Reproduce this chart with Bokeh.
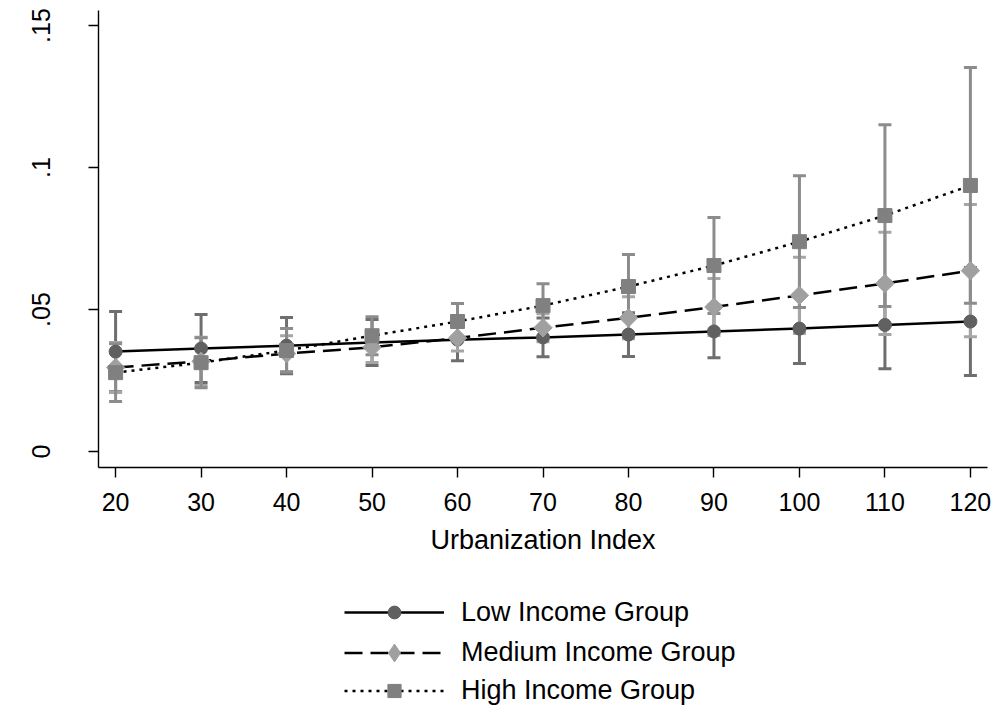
import math
from bokeh.plotting import figure
from bokeh.layouts import column
from bokeh.models import Range1d, FixedTicker, Legend, LegendItem, CustomJSTickFormatter
from bokeh.embed import file_html
from bokeh.resources import INLINE

# ---- data ----
urban = [20, 30, 40, 50, 60, 70, 80, 90, 100, 110, 120]

low_mean = [0.0352, 0.0363, 0.0373, 0.0384, 0.0394, 0.0402, 0.0412, 0.0423, 0.0433, 0.0446, 0.0458]
low_lo   = [0.0211, 0.0243, 0.0274, 0.0303, 0.0320, 0.0334, 0.0335, 0.0330, 0.0310, 0.0292, 0.0268]
low_hi   = [0.0493, 0.0483, 0.0472, 0.0465, 0.0468, 0.0470, 0.0489, 0.0516, 0.0556, 0.0600, 0.0648]

med_mean = [0.0296, 0.0318, 0.0345, 0.0367, 0.0400, 0.0436, 0.0471, 0.0509, 0.0550, 0.0592, 0.0637]
med_lo   = [0.0208, 0.0233, 0.0282, 0.0314, 0.0354, 0.0387, 0.0397, 0.0409, 0.0416, 0.0412, 0.0404]
med_hi   = [0.0384, 0.0403, 0.0408, 0.0420, 0.0446, 0.0485, 0.0545, 0.0609, 0.0684, 0.0772, 0.0870]

high_mean = [0.0278, 0.0313, 0.0356, 0.0408, 0.0458, 0.0514, 0.0581, 0.0655, 0.0739, 0.0831, 0.0937]
high_lo   = [0.0176, 0.0225, 0.0279, 0.0341, 0.0395, 0.0437, 0.0468, 0.0486, 0.0507, 0.0511, 0.0522]
high_hi   = [0.0380, 0.0401, 0.0433, 0.0475, 0.0521, 0.0591, 0.0694, 0.0824, 0.0971, 0.1151, 0.1352]

y_ticks = [0, 0.05, 0.1, 0.15]
series_names = ["Low Income Group", "Medium Income Group", "High Income Group"]

FONT = "Liberation Sans"

p = figure(width=999, height=575, output_backend="svg", toolbar_location=None,
           x_range=Range1d(18.0, 122.0), y_range=Range1d(-0.0056, 0.1553),
           min_border_left=98, min_border_right=12, min_border_top=10, min_border_bottom=108)
p.outline_line_color = None
p.xgrid.visible = False
p.ygrid.visible = False

# style per series: marker fill, bar colour, dash, plot marker, size, angle, legend marker, legend box height
styles = [
    ("#606060", "#6e6e6e", "solid", "circle", 13, 0.0, "circle", 32),
    ("#a0a0a0", "#a6a6a6", "18 8", "square", 13, math.pi / 4, "diamond", 45),
    ("#808080", "#8c8c8c", "3 5", "square", 14, 0.0, "square", 33),
]
data = [(low_mean, low_lo, low_hi), (med_mean, med_lo, med_hi), (high_mean, high_lo, high_hi)]

# error bars first
for (m, lo, hi), st in zip(data, styles):
    bcol = st[1]
    p.segment(x0=urban, y0=lo, x1=urban, y1=hi, line_color=bcol, line_width=3)
    p.scatter(x=urban, y=lo, marker="dash", size=13, line_color=bcol, line_width=3)
    p.scatter(x=urban, y=hi, marker="dash", size=13, line_color=bcol, line_width=3)

for (m, lo, hi), st in zip(data, styles):
    p.line(x=urban, y=m, line_color="black", line_width=2.5, line_dash=st[2])
for (m, lo, hi), st in zip(data, styles):
    p.scatter(x=urban, y=m, marker=st[3], size=st[4], angle=st[5],
              fill_color=st[0], line_color=st[0])

# axes
p.xaxis.ticker = FixedTicker(ticks=urban)
p.yaxis.ticker = FixedTicker(ticks=y_ticks)
p.yaxis.formatter = CustomJSTickFormatter(code="""
    if (tick == 0) { return "0"; }
    return tick.toFixed(2).replace(/0$/, "").replace(/^0/, "");
""")
for ax in (p.xaxis[0], p.yaxis[0]):
    ax.axis_line_color = "black"
    ax.axis_line_width = 1.4
    ax.major_tick_line_color = "black"
    ax.major_tick_line_width = 1.4
    ax.major_tick_out = 10
    ax.major_tick_in = 0
    ax.minor_tick_line_color = None
    ax.major_label_text_font = FONT
    ax.major_label_text_font_size = "25px"
    ax.major_label_text_color = "black"

p.yaxis.major_label_orientation = "vertical"
p.yaxis.major_label_standoff = 38
p.xaxis.major_label_standoff = 15
p.xaxis.axis_label = "Urbanization Index"
p.xaxis.axis_label_text_font = FONT
p.xaxis.axis_label_text_font_size = "27px"
p.xaxis.axis_label_text_font_style = "normal"
p.xaxis.axis_label_text_color = "black"
p.xaxis.axis_label_standoff = 11

# legend panel (same series drawn out of view, used only as legend keys)
LEG_H = 134
q = figure(width=999, height=LEG_H, output_backend="svg", toolbar_location=None,
           x_range=Range1d(0, 1), y_range=Range1d(0, 1),
           x_axis_type=None, y_axis_type=None,
           min_border_left=98, min_border_right=12, min_border_top=0, min_border_bottom=0)
q.outline_line_color = None
q.xgrid.visible = False
q.ygrid.visible = False

row_centers = [37, 77, 115]   # pixel rows of the legend keys inside the legend panel
for name, (m, lo, hi), st, rc in zip(series_names, data, styles, row_centers):
    ln = q.line(x=urban, y=m, line_color="black", line_width=2.5, line_dash=st[2])
    pt = q.scatter(x=urban, y=m, marker=st[6], size=st[4],
                   fill_color=st[0], line_color=st[0])
    h = st[7]
    leg = Legend(items=[LegendItem(label=name, renderers=[ln, pt])],
                 location=(246, round(LEG_H - rc - h / 2)), orientation="vertical",
                 glyph_width=100, glyph_height=h, label_height=30, label_standoff=17,
                 label_text_font=FONT, label_text_font_size="27px", label_text_color="black",
                 padding=0, margin=0, border_line_color=None, background_fill_alpha=0)
    q.add_layout(leg)

layout = column(p, q, spacing=0)
open("out.html", "w").write(file_html(layout, INLINE))
